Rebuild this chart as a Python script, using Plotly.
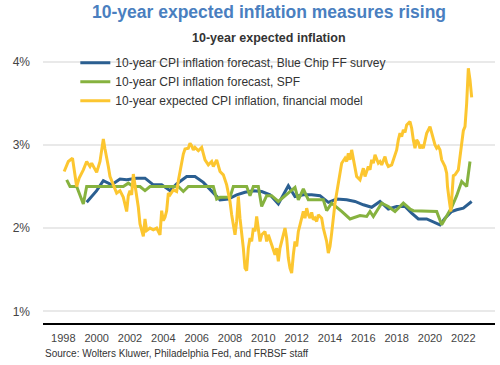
import plotly.graph_objects as go

# Blue Chip FF survey (semiannual)
bc_x = [1999.4, 2000.0, 2000.4, 2000.9, 2001.4, 2001.8, 2002.4, 2002.9, 2003.4, 2003.9,
        2004.4, 2004.8, 2005.4, 2005.9, 2006.4, 2006.9, 2007.4, 2007.9, 2008.4, 2008.9,
        2009.4, 2009.9, 2010.4, 2010.9, 2011.5, 2011.9, 2012.4, 2012.9, 2013.4, 2013.9,
        2014.4, 2015.0, 2015.5, 2016.0, 2016.5, 2017.0, 2017.5, 2018.0, 2018.5, 2018.9,
        2019.3, 2019.8, 2020.3, 2020.6, 2020.9, 2021.3, 2021.6, 2022.0, 2022.5]
bc_y = [2.31, 2.45, 2.57, 2.52, 2.59, 2.58, 2.60, 2.60, 2.52, 2.52,
        2.45, 2.53, 2.62, 2.62, 2.55, 2.45, 2.34, 2.35, 2.40, 2.43,
        2.45, 2.44, 2.40, 2.29, 2.51, 2.38, 2.40, 2.40, 2.39, 2.31,
        2.35, 2.34, 2.32, 2.28, 2.25, 2.32, 2.23, 2.26, 2.26, 2.18,
        2.11, 2.11, 2.07, 2.04, 2.12, 2.20, 2.22, 2.24, 2.32]

# SPF
spf_x = [1998.2, 1998.4, 1998.8, 1999.2, 1999.4, 2001.6, 2001.9, 2002.2, 2002.6, 2002.9,
         2003.2, 2004.9, 2005.2, 2005.5, 2007.0, 2007.2, 2007.4, 2008.0, 2008.2, 2009.0,
         2009.2, 2009.4, 2009.7, 2009.9, 2010.2, 2010.5, 2010.9, 2011.4, 2011.9, 2012.1,
         2012.4, 2012.7, 2013.6, 2013.8, 2014.1, 2014.7, 2015.2, 2015.8, 2016.2, 2016.4,
         2016.6, 2017.1, 2017.5, 2017.9, 2018.4, 2018.8, 2019.0, 2020.4, 2020.7, 2021.3,
         2021.6, 2021.9, 2022.2, 2022.4]
spf_y = [2.58, 2.50, 2.50, 2.29, 2.50, 2.50, 2.54, 2.50, 2.50, 2.45,
         2.50, 2.50, 2.44, 2.50, 2.50, 2.35, 2.37, 2.37, 2.50, 2.50,
         2.39, 2.50, 2.50, 2.26, 2.39, 2.39, 2.32, 2.40, 2.49, 2.34,
         2.47, 2.34, 2.34, 2.21, 2.30, 2.20, 2.11, 2.15, 2.14, 2.20,
         2.14, 2.30, 2.26, 2.20, 2.30, 2.23, 2.21, 2.20, 2.04, 2.25,
         2.39, 2.56, 2.50, 2.80]

# Financial model
fm_x = [1998.05, 1998.3, 1998.55, 1998.7, 1998.8, 1998.95, 1999.1, 1999.2, 1999.4, 1999.6,
        1999.7, 1999.9, 2000.0, 2000.2, 2000.3, 2000.4, 2000.5, 2000.6, 2000.7, 2000.8,
        2001.0, 2001.2, 2001.4, 2001.6, 2001.8, 2001.9, 2002.0, 2002.1, 2002.2, 2002.3,
        2002.5, 2002.6, 2002.7, 2002.8, 2002.9, 2003.0, 2003.2, 2003.4, 2003.6, 2003.8,
        2003.9, 2004.0, 2004.1, 2004.2, 2004.3, 2004.4, 2004.6, 2004.8, 2004.9, 2005.0,
        2005.2, 2005.3, 2005.5, 2005.6, 2005.7, 2005.8, 2005.9, 2006.1, 2006.3, 2006.5,
        2006.7, 2006.9, 2007.0, 2007.2, 2007.4, 2007.6, 2007.8, 2008.0, 2008.1, 2008.3,
        2008.4, 2008.5, 2008.6, 2008.8, 2008.9, 2009.0, 2009.1, 2009.2, 2009.3, 2009.4,
        2009.5, 2009.6, 2009.8, 2009.9, 2010.1, 2010.2, 2010.3, 2010.5, 2010.7, 2010.8,
        2010.9, 2011.0, 2011.2, 2011.3, 2011.4, 2011.5, 2011.6, 2011.7, 2011.8, 2011.9,
        2012.0, 2012.1, 2012.2, 2012.3, 2012.4, 2012.5, 2012.6, 2012.7, 2012.8, 2012.9,
        2013.0, 2013.1, 2013.2, 2013.3, 2013.5, 2013.6, 2013.7, 2013.8, 2013.9, 2014.0,
        2014.1, 2014.3, 2014.5, 2014.7, 2014.9, 2015.0, 2015.1, 2015.2, 2015.3, 2015.4,
        2015.5, 2015.6, 2015.8, 2016.0, 2016.1, 2016.3, 2016.4, 2016.5, 2016.6, 2016.7,
        2016.9, 2017.0, 2017.1, 2017.2, 2017.3, 2017.4, 2017.5, 2017.7, 2017.8, 2018.0,
        2018.1, 2018.2, 2018.3, 2018.4, 2018.5, 2018.6, 2018.8, 2018.9, 2019.0, 2019.1,
        2019.2, 2019.3, 2019.4, 2019.5, 2019.6, 2019.8, 2020.0, 2020.1, 2020.2, 2020.3,
        2020.4, 2020.5, 2020.6, 2020.7, 2020.8, 2020.9, 2021.0, 2021.05, 2021.15, 2021.25,
        2021.4, 2021.5, 2021.7, 2021.8, 2021.9, 2022.0, 2022.1, 2022.2, 2022.3, 2022.4,
        2022.5]
fm_y = [2.68, 2.80, 2.84, 2.65, 2.50, 2.60, 2.65, 2.70, 2.80, 2.74,
        2.78, 2.70, 2.67, 2.80, 2.96, 3.07, 2.95, 2.82, 2.74, 2.62,
        2.52, 2.42, 2.45, 2.37, 2.20, 2.39, 2.45, 2.40, 2.65, 2.53,
        2.25, 2.05, 1.97, 1.90, 2.11, 1.97, 2.00, 1.98, 2.00, 1.92,
        2.21, 2.09, 2.13, 2.21, 2.42, 2.40, 2.46, 2.44, 2.57, 2.69,
        2.89, 2.95, 2.96, 3.02, 2.99, 2.94, 2.97, 2.93, 2.97, 2.82,
        2.76, 2.80, 2.74, 2.82, 2.68, 2.64, 2.52, 2.32, 2.16, 1.92,
        2.08, 2.38, 2.12, 1.76, 1.52, 1.49, 1.76, 1.88, 1.84, 2.00,
        1.96, 2.14, 1.84, 1.92, 1.96, 1.84, 1.92, 1.80, 1.68, 1.76,
        1.60, 1.76, 1.92, 2.00, 1.88, 1.64, 1.52, 1.46, 1.68, 1.84,
        1.78, 1.96, 2.04, 2.12, 2.20, 2.12, 2.24, 2.16, 2.12, 2.19,
        2.10, 2.12, 2.08, 2.16, 2.12, 2.00, 1.92, 1.84, 1.70, 1.78,
        1.94, 2.30, 2.54, 2.78, 2.84, 2.80, 2.90, 2.82, 2.94, 2.82,
        2.70, 2.62, 2.58, 2.72, 2.62, 2.74, 2.70, 2.82, 2.78, 2.88,
        2.78, 2.80, 2.76, 2.82, 2.86, 2.78, 2.74, 2.76, 2.82, 2.94,
        3.06, 3.14, 3.10, 3.18, 3.15, 3.24, 3.28, 3.20, 3.06, 2.96,
        3.06, 3.03, 2.96, 3.00, 2.96, 3.14, 3.22, 3.14, 3.06, 3.00,
        2.96, 2.98, 2.94, 2.82, 2.78, 2.74, 2.66, 2.50, 2.34, 2.20,
        2.63, 2.64, 2.70, 2.86, 3.00, 3.17, 3.22, 3.50, 3.92, 3.78,
        3.57]

year_ticks = list(range(1998, 2023, 2))
pct_ticks = [1, 2, 3, 4]

names = ["10-year CPI inflation forecast, Blue Chip FF survey",
         "10-year CPI inflation forecast, SPF",
         "10-year expected CPI inflation, financial model"]
colors = ["#2b5f91", "#86b23f", "#fcc630"]

FONT = "Liberation Sans, Arial, sans-serif"

fig = go.Figure()
fig.add_trace(go.Scatter(x=bc_x, y=bc_y, mode="lines", name=names[0],
                         line=dict(color=colors[0], width=3)))
fig.add_trace(go.Scatter(x=spf_x, y=spf_y, mode="lines", name=names[1],
                         line=dict(color=colors[1], width=3)))
fig.add_trace(go.Scatter(x=fm_x, y=fm_y, mode="lines", name=names[2],
                         line=dict(color=colors[2], width=3)))

fig.update_layout(
    width=500, height=365,
    margin=dict(l=43, r=5, t=55, b=42, autoexpand=False),
    paper_bgcolor="white", plot_bgcolor="white",
    font=dict(family=FONT, color="#333333"),
    showlegend=True,
    legend=dict(x=0.0715, y=1.025, xanchor="left", yanchor="top",
                bgcolor="rgba(0,0,0,0)", font=dict(size=12, color="#333333"),
                itemwidth=30, tracegroupgap=0),
    xaxis=dict(range=[1996.78, 2023.9], tickvals=year_ticks,
               ticktext=[str(v) for v in year_ticks],
               showgrid=False, zeroline=False, showline=True,
               linecolor="black", linewidth=2, ticks="",
               tickfont=dict(size=11, color="#444444"), ticklabelstandoff=4),
    yaxis=dict(range=[0.86, 4.08], tickvals=pct_ticks,
               ticktext=[f"{v}%" for v in pct_ticks],
               showgrid=True, gridcolor="#e9e9e9", gridwidth=1.5,
               zeroline=False, showline=False, ticks="",
               tickfont=dict(size=12, color="#444444"), ticklabelstandoff=12),
)

plot_w = 500 - 43 - 5
fig.add_annotation(text="<b>10-year expected inflation measures rising</b>",
                   xref="paper", yref="paper", x=(269 - 43) / plot_w, y=1.0,
                   xanchor="center", yanchor="middle", showarrow=False,
                   yshift=55 - 12,
                   font=dict(size=17.5, color="#4a7fc0", family=FONT))
fig.add_annotation(text="<b>10-year expected inflation</b>",
                   xref="paper", yref="paper", x=(268.5 - 43) / plot_w, y=1.0,
                   xanchor="center", yanchor="middle", showarrow=False,
                   yshift=55 - 38,
                   font=dict(size=12.5, color="#333333", family=FONT))
fig.add_annotation(text="Source: Wolters Kluwer, Philadelphia Fed, and FRBSF staff",
                   xref="paper", yref="paper", x=0, y=0,
                   xanchor="left", yanchor="middle", showarrow=False,
                   yshift=-(353 - 323),
                   font=dict(size=10, color="#333333", family=FONT))

fig.write_html("out.html",
               config={"displayModeBar": False},
               post_script="document.body.style.margin='0';document.body.style.overflow='hidden';")
